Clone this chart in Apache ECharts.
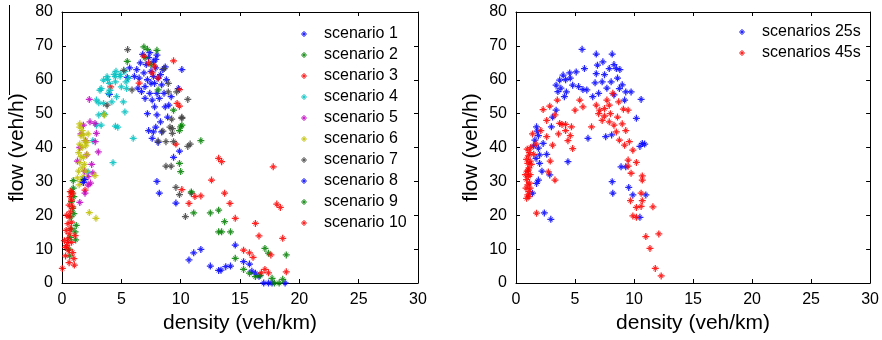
<!DOCTYPE html>
<html><head><meta charset="utf-8">
<script src="https://cdn.jsdelivr.net/npm/echarts@6/dist/echarts.min.js"></script>
<style>html,body{margin:0;padding:0;background:#fff}#c{width:882px;height:340px}</style>
</head><body><div id="c"></div>
<script>
// ---- Left panel data (density veh/km, flow veh/h) ----
const s1 = [[6.3,63],[6.5,60.5],[6.6,65],[6.8,67.5],[6.9,62],[7.0,58],[7.1,64.5],[7.2,60],[7.3,66.5],[7.4,56],[7.5,62.5],[7.5,59],[7.6,54],[7.7,65.3],[7.7,61],[7.8,58.9],[7.8,52],[7.9,63.5],[8.0,67.3],[8.0,56],[8.0,49.6],[8.1,60.5],[8.2,54.5],[8.3,61.5],[8.3,47.6],[8.4,58.5],[8.5,63],[8.6,56],[8.7,63.8],[8.7,52],[8.8,60],[7.2,50],[7.0,54.5],[6.7,56.5],[7.7,44.6],[8.4,44.6],[7.6,42.7],[7.9,46],[8.1,41.5],[6.4,57.5],[6.1,61],[5.7,63.5],[5.5,60.7],[4.0,55.7],[9.8,57.4],[10.1,63],[9.9,38.9],[9.4,37.1],[8.0,30],[8.2,26.5],[9.6,23.6],[7.3,45],[8.9,49],[9.0,52.5],[9.2,55],[7.4,68],[7.9,66]];
const s2 = [[0.6,10],[0.7,13.5],[0.8,16],[0.75,19.5],[0.9,22],[0.8,24],[1.0,25.5],[0.8,26.9],[0.95,28],[0.95,30.2],[1.1,15.1],[1.15,12.7],[1.2,17],[0.65,8],[1.0,20.5],[1.8,30.6],[5.5,65.4],[6.9,69.7],[7.2,69],[8.0,68.7],[7.0,66.5],[9.4,51],[10.1,46.6],[9.9,45],[10.0,46.1],[11.7,42],[9.9,35.3],[10.0,32.9],[8.1,57],[7.5,64.5]];
const s3 = [[0.03,4.3],[1.04,5.3],[1.0,7.2],[0.53,9.7],[0.3,8],[0.4,11],[0.5,13],[0.6,14.5],[0.35,15.5],[0.7,16],[0.5,17.5],[0.8,18],[0.6,19.5],[0.4,20],[0.7,21],[0.9,22.5],[0.6,23],[0.8,24.5],[0.7,25.5],[0.9,26.5],[0.5,12],[0.8,12],[1.1,14],[0.3,10.5],[0.6,6],[0.9,9],[1.94,27.4],[0.2,12.5],[0.7,27],[6.9,67],[7.3,65],[7.6,62],[8.1,60.5],[7.8,64],[6.5,59],[9.4,65.6],[9.9,57.1],[9.9,52.2],[9.6,41],[10.1,27.6],[9.7,53],[4.1,57.9]];
const s4 = [[4.55,62.5],[5.3,62.5],[3.5,59.9],[4.0,58.9],[4.5,59.4],[5.0,57.9],[4.04,56.9],[3.2,56.9],[2.9,54],[3.5,53],[3.1,49.6],[3.5,50],[3.3,46.6],[4.5,46.3],[4.7,46],[6.0,42.7],[4.3,35.5],[4.5,60.9],[5.45,57.4],[3.8,60.9],[5.6,60.4],[4.9,61],[5.3,50.5],[3.85,60.1],[4.4,61.6],[4.9,61.6],[5.4,59.4],[3.3,57.4],[3.9,56],[4.6,55],[5.17,53.5],[3.1,53.2],[3.6,49.8],[2.9,46.6],[2.2,32.8],[2.6,42],[4.2,53.5]];
const s5 = [[2.3,54.2],[1.8,46.6],[2.36,47.6],[2.78,47.1],[2.9,44.2],[2.8,41.7],[3.06,38.7],[2.2,28.9],[1.94,26.5],[1.5,23.8],[2.2,31.4],[2.08,37.8],[1.6,44],[1.5,40],[2.0,42],[2.5,35],[1.9,33],[2.4,29.5],[1.3,36],[2.6,32.5]];
const s6 = [[1.5,46],[1.7,45],[1.6,43.5],[1.8,43.7],[1.9,42],[1.5,41],[1.7,40],[2.0,40.5],[1.4,38.5],[1.6,37.3],[1.8,37],[1.5,35.5],[1.7,34],[1.4,33],[1.9,35],[2.1,38],[2.2,44],[1.3,31],[1.6,30],[1.8,31.5],[2.0,33],[2.78,31.7],[2.3,20.8],[2.86,19.1],[3.56,49.6],[1.5,47],[2.1,41.5],[1.45,29]];
const s7 = [[5.53,68.9],[8.6,63.3],[10.6,54.2],[10.1,48.9],[9.3,45.6],[9.4,41.7],[8.76,41.7],[10.8,41.0],[10.6,40.3],[8.76,34.5],[9.2,34.5],[9.6,28.2],[9.9,26.1],[10.9,26.5],[10.4,19.6],[3.8,52.5],[5.9,57],[5.2,62.8],[8.96,58.9],[8.96,56.4],[9.66,56.4],[9.24,48.4],[10.1,48.6],[9.1,46],[8.5,44.8],[9.3,44.2],[8.1,41.9]];
const s8 = [[1.8,29.7],[1.9,30.5],[10.7,6.8],[11.1,8.9],[11.7,9.9],[12.5,5],[13.2,3.7],[13.4,3.8],[13.8,4.8],[14.2,5],[14.6,11.2],[15.3,6.3],[15.8,5.6],[16.0,3.5],[16.3,2.9],[16.6,2],[17.0,0],[17.4,0],[17.7,0],[18.8,0]];
const s9 = [[10.9,26.9],[11.1,20.7],[12.5,20.7],[13.2,21.5],[13.7,18.1],[13.45,15.1],[14.2,15.1],[13.2,15.1],[14.6,7.3],[15.3,4.0],[15.8,2.9],[16.3,1.9],[16.7,2.2],[17.1,10.2],[17.4,8.8],[18.9,8.3],[17.7,1.4],[18.3,0],[18.6,1.1],[17.9,0]];
const s10 = [[10.7,23.5],[11.2,25.5],[11.7,25.7],[12.6,30.4],[13.2,36.8],[13.45,35.8],[13.7,26.5],[14.15,23.5],[14.6,19.1],[15.3,9.7],[15.8,8.9],[16.1,7.6],[16.3,17.6],[16.6,13.9],[17.6,8.3],[17.1,4.0],[17.4,3],[16.8,3],[17.8,34.3],[18.1,23.3],[18.4,22.3],[18.6,13.2],[18.9,3.3]];
const leftSeries = [s1,s2,s3,s4,s5,s6,s7,s8,s9,s10];
const leftNames = ['scenario 1','scenario 2','scenario 3','scenario 4','scenario 5','scenario 6','scenario 7','scenario 8','scenario 9','scenario 10'];
const leftColors = ['#0000ff','#008000','#ff0000','#00bfbf','#bf00bf','#bfbf00','#404040','#0000ff','#008000','#ff0000'];

// ---- Right panel data ----
const r25 = [[5.6,69],[6.8,67.6],[8.15,67.6],[7.36,65.3],[6.9,64.3],[7.9,63.3],[8.5,63.3],[8.8,63],[8.3,64.5],[6.8,61.8],[5.8,63.3],[5.1,62.3],[4.55,62],[3.99,61.4],[3.7,59.9],[3.4,58.4],[3.55,56.5],[4.27,56.4],[4.8,58.4],[5.67,57.1],[6.0,57],[6.7,59.1],[7.3,59.4],[8.06,59.4],[8.76,57.4],[9.3,56.4],[9.75,56.4],[10.6,54.2],[10.2,48.6],[10.7,41.2],[10.9,41],[10.5,40.3],[6.1,42.7],[7.6,43.2],[8.1,43.7],[4.4,35.8],[1.74,46.1],[1.8,44.8],[1.9,43.5],[1.6,42.2],[2.3,41.2],[1.9,39.8],[2.0,37.8],[1.7,36.8],[3.0,46.1],[3.1,49],[3.4,51],[1.4,26.5],[1.74,29.4],[1.9,30.4],[2.4,20.7],[2.95,18.8],[2.86,31.9],[2.0,35.3],[8.15,29.9],[8.2,26.5],[8.9,34.3],[9.3,34.3],[9.55,28.2],[9.9,26],[11.0,26],[10.5,19.4],[4.2,60],[4.6,60.5],[3.8,57.5],[4.1,55],[5.3,58],[7.0,56],[7.7,57.5],[8.3,55.5],[8.6,60.5],[7.5,61.5],[6.5,55],[9.0,58.5],[9.2,54],[2.6,38],[2.2,33],[1.5,40.5]];
const r45 = [[0.9,25],[1.0,26],[1.1,27],[0.85,28],[1.0,29],[1.15,29.5],[0.9,30.5],[1.05,31.5],[1.2,32],[0.95,33],[1.1,34],[1.0,35.3],[1.2,36],[0.9,36.5],[1.05,37.5],[1.15,38.5],[0.95,39.5],[1.25,40],[1.3,35],[0.8,32],[1.2,28],[1.1,25.5],[1.04,33.3],[1.74,20.6],[2.74,32.8],[3.3,30.4],[1.5,38],[1.7,41],[1.4,44],[2.3,51.2],[2.86,52.2],[3.5,54],[3.3,49.6],[3.7,47.1],[3.9,46.8],[4.2,46.8],[4.7,46.1],[4.2,45],[4.6,43.5],[4.4,42],[4.8,39.7],[3.1,40.7],[2.6,43.2],[2.6,48],[5.0,51],[5.4,54],[5.67,52],[6.4,46.1],[7.0,50],[7.1,51],[7.5,51.5],[7.9,52.5],[8.2,56],[8.7,53.5],[9.1,51.3],[9.5,51],[7.5,49.3],[7.9,47.6],[8.3,46.6],[8.5,44.6],[8.76,42.2],[9.2,40.7],[9.6,41.7],[9.9,39.2],[9.5,36.3],[10.2,35.6],[7.3,48],[8.0,50],[8.6,49],[9.0,47],[9.3,45],[6.8,52.5],[7.7,54],[2.1,45],[2.9,36],[3.6,44],[9.75,32.4],[10.7,31.6],[10.7,30.4],[10.6,26.5],[10.7,24.3],[10.2,22.3],[9.7,24.3],[9.9,19.8],[10.2,19.4],[11.6,22.5],[11.0,13.7],[11.35,10.2],[11.8,4.3],[12.1,14.5],[12.3,2.1],[10.6,22.6],[9.5,34.5]];
const rightSeries = [r25, r45];
const rightNames = ['scenarios 25s','scenarios 45s'];
const rightColors = ['#0000ff','#ff0000'];

const xTicks = {min:0, max:30, interval:5};
const yTicks = {min:0, max:80, interval:10};
const xName = 'density (veh/km)';
const yName = 'flow (veh/h)';

const STAR = 'path://M-0.9,-5L0.9,-5L0.9,-0.9L5,-0.9L5,0.9L0.9,0.9L0.9,5L-0.9,5L-0.9,0.9L-5,0.9L-5,-0.9L-0.9,-0.9Z M-3.4,-2.7L-2.7,-3.4L3.4,2.7L2.7,3.4Z M2.7,-3.4L3.4,-2.7L-2.7,3.4L-3.4,2.7Z';
const FONT = 'Liberation Sans, Arial, sans-serif';

function xAx(grid, top){
  return Object.assign({type:'value', gridIndex:grid, position: top?'top':'bottom',
    axisLine:{onZero:false, lineStyle:{color:'#000', width:1}},
    axisTick:{inside:true, length:4, lineStyle:{color:'#000'}},
    axisLabel:{show:!top, fontSize:16, color:'#000', margin:9, fontFamily:FONT},
    splitLine:{show:false},
    name: top? '' : xName, nameLocation:'middle', nameGap:30,
    nameTextStyle:{fontSize:21, color:'#000', fontFamily:FONT}}, xTicks);
}
function yAx(grid, right){
  return Object.assign({type:'value', gridIndex:grid, position: right?'right':'left',
    axisLine:{onZero:false, lineStyle:{color:'#000', width:1}},
    axisTick:{inside:true, length:4, lineStyle:{color:'#000'}},
    axisLabel:{show:!right, fontSize:16, color:'#000', margin:9, fontFamily:FONT},
    splitLine:{show:false},
    name: right? '' : yName, nameLocation:'middle', nameGap:34, nameRotate:90,
    nameTextStyle:{fontSize:21, color:'#000', fontFamily:FONT}}, yTicks);
}

const series = [];
leftSeries.forEach((d,i)=>series.push({type:'scatter', name:leftNames[i], data:d, xAxisIndex:0, yAxisIndex:0,
  symbol:STAR, symbolSize:7, symbolKeepAspect:true, itemStyle:{color:leftColors[i], opacity:0.85}, silent:true}));
rightSeries.forEach((d,i)=>series.push({type:'scatter', name:rightNames[i], data:d, xAxisIndex:2, yAxisIndex:2,
  symbol:STAR, symbolSize:7, symbolKeepAspect:true, itemStyle:{color:rightColors[i], opacity:0.85}, silent:true}));

const chart = echarts.init(document.getElementById('c'), null, {renderer:'canvas'});
chart.setOption({
  animation:false,
  backgroundColor:'#fff',
  grid:[{left:62, right:464, top:12, bottom:57},{left:516, right:10, top:12, bottom:57}],
  xAxis:[xAx(0,false), xAx(0,true), xAx(1,false), xAx(1,true)],
  yAxis:[yAx(0,false), yAx(0,true), yAx(1,false), yAx(1,true)],
  legend:[
    {data:leftNames, orient:'vertical', left:296, top:21, itemWidth:30, itemHeight:6, itemGap:5,
     textStyle:{fontSize:16, color:'#000', fontFamily:FONT, lineHeight:16}, selectedMode:false},
    {data:rightNames, orient:'vertical', left:734, top:19, itemWidth:30, itemHeight:6, itemGap:5,
     textStyle:{fontSize:16, color:'#000', fontFamily:FONT, lineHeight:16}, selectedMode:false}
  ],
  graphic:[{type:'line', shape:{x1:9.5,y1:5,x2:9.5,y2:95}, style:{stroke:'#000', lineWidth:1}}],
  series: series
});
</script></body></html>
